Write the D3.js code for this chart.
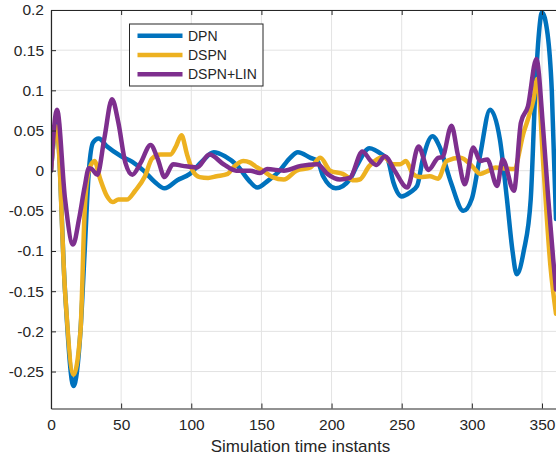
<!DOCTYPE html>
<html>
<head>
<meta charset="utf-8">
<script src="https://cdn.jsdelivr.net/npm/d3@7"></script>
<style>
  body { margin: 0; background: #fff; }
  text { font-family: 'Liberation Sans', Arial, sans-serif; fill: #262626; }
</style>
</head>
<body>
<div id="chart"></div>
<script>
const seriesNames = ['DPN', 'DSPN', 'DSPN+LIN']
const seriesColors = ['#0072BD', '#EDB120', '#7E2F8E']

const xTicks = [0, 50, 100, 150, 200, 250, 300, 350]
const yTicks = [-0.25, -0.2, -0.15, -0.1, -0.05, 0, 0.05, 0.1, 0.15, 0.2]

// [time instant, value]
const dpn = [
  [0, 0], [4, 0.058], [10, -0.15], [16, -0.268], [21, -0.2], [24, -0.1], [27, 0.0],
  [30, 0.035], [34, 0.04], [40, 0.03], [50, 0.018], [58, 0.011], [66, 0.0],
  [74, -0.014], [81, -0.022], [90, -0.012], [99, -0.004], [108, 0.012], [116, 0.023],
  [124, 0.018], [133, 0.006], [141, -0.012], [147, -0.021], [155, -0.012], [163, 0],
  [170, 0.015], [176, 0.023], [185, 0.016], [190, 0.012], [194, -0.007], [203, -0.022],
  [213, -0.011], [218, 0.006], [227, 0.028], [236, 0.02], [240, 0.014], [244, -0.014],
  [250, -0.032], [256, -0.027], [261, -0.019], [265, 0.014], [272, 0.043], [277, 0.03],
  [285, -0.014], [294, -0.05], [300, -0.035], [306, 0.02], [313, 0.076], [320, 0.039],
  [325, -0.035], [329, -0.1], [332, -0.129], [337, -0.1], [342, -0.035], [345, 0.089],
  [347.5, 0.164], [350, 0.197], [354, 0.17], [357, 0.1], [360, -0.06]
]

const dspn = [
  [0, 0], [4, 0.055], [10, -0.15], [16, -0.254], [21, -0.2], [24, -0.05], [27, 0.0],
  [31, 0.012], [35, -0.01], [40, -0.032], [44, -0.039], [48, -0.036], [54, -0.036],
  [60, -0.025], [67, -0.007], [72, 0.015], [78, 0.02], [85, 0.02], [89, 0.03],
  [93, 0.044], [97, 0.02], [101, 0.0], [106, -0.008], [112, -0.009], [118, -0.007],
  [126, -0.004], [130, 0.004], [137, 0.012], [142, 0.01], [147, 0.004], [151, 0],
  [158, -0.008], [166, -0.011], [175, 0], [185, 0.004], [192, 0.016], [199, 0],
  [208, -0.004], [216, -0.012], [220, -0.011], [227, 0.006], [237, 0.017], [244, 0.008],
  [249, 0.008], [253, 0.012], [258, -0.004], [263, -0.008], [270, -0.007], [276, -0.01],
  [282, 0.012], [292, 0.016], [300, 0.006], [306, -0.004], [312, 0.0], [317, 0.004],
  [322, 0.003], [330, 0.002], [337, 0.048], [340, 0.064], [344, 0.089], [346.6, 0.114],
  [351, 0.006], [356, -0.118], [360, -0.178]
]

const dspnLin = [
  [0, 0], [4.3, 0.076], [10, -0.035], [15.7, -0.092], [20, -0.06], [24, -0.02],
  [27, 0.003], [29, 0.002], [33, -0.005], [38, 0.04], [43.5, 0.089], [48, 0.06],
  [53, 0.01], [58, -0.005], [64, 0.01], [71, 0.032], [76, 0.015], [81, -0.008],
  [87, 0.008], [94, 0.006], [104, 0.004], [113, 0.02], [123, 0.008], [132, 0],
  [142, 0], [149, -0.003], [154, 0.002], [166, 0], [178, 0.006], [190, 0.008],
  [197, -0.004], [206, -0.011], [213, -0.009], [222, 0.024], [228, 0.012], [232, 0.007],
  [238, 0.018], [245, 0.0], [254, -0.021], [262, 0.03], [269, 0.001], [276, 0.016],
  [279, 0.017], [285.5, 0.056], [290, 0.02], [295, -0.017], [301, 0.029], [306, 0.012],
  [311, 0.014], [318, -0.019], [322, 0.014], [330, -0.025], [335, 0.06], [340, 0.08],
  [346, 0.139], [351, 0.048], [354.5, -0.035], [358, -0.11], [360, -0.148]
]

const allSeries = [dpn, dspn, dspnLin]

const width = 556
const height = 458
const margin = { top: 10, right: 0, bottom: 49.5, left: 51 }

const svg = d3
  .select('#chart')
  .append('svg')
  .attr('width', width)
  .attr('height', height)

const xScale = d3
  .scaleLinear()
  .domain([0, 360])
  .range([margin.left, width - margin.right])

const yScale = d3
  .scaleLinear()
  .domain([-0.296, 0.2])
  .range([height - margin.bottom, margin.top])

const fmt = (d) => (d === 0 ? '0' : String(d).replace(/^(-?)0\./, '$10.'))

// grid
svg
  .append('g')
  .selectAll('line.gx')
  .data(xTicks)
  .join('line')
  .attr('x1', (d) => xScale(d))
  .attr('x2', (d) => xScale(d))
  .attr('y1', yScale.range()[0])
  .attr('y2', yScale.range()[1])
  .attr('stroke', '#e3e3e3')
  .attr('stroke-width', 1)

svg
  .append('g')
  .selectAll('line.gy')
  .data(yTicks)
  .join('line')
  .attr('x1', xScale.range()[0])
  .attr('x2', xScale.range()[1])
  .attr('y1', (d) => yScale(d))
  .attr('y2', (d) => yScale(d))
  .attr('stroke', '#e3e3e3')
  .attr('stroke-width', 1)

// lines
svg
  .append('clipPath')
  .attr('id', 'clip')
  .append('rect')
  .attr('x', margin.left)
  .attr('y', margin.top)
  .attr('width', width - margin.left - margin.right)
  .attr('height', height - margin.top - margin.bottom)

const line = d3
  .line()
  .x((d) => xScale(d[0]))
  .y((d) => yScale(d[1]))
  .curve(d3.curveMonotoneX)

svg
  .append('g')
  .attr('clip-path', 'url(#clip)')
  .selectAll('path')
  .data(allSeries)
  .join('path')
  .attr('d', line)
  .attr('fill', 'none')
  .attr('stroke', (d, i) => seriesColors[i])
  .attr('stroke-width', 4.5)
  .attr('stroke-linejoin', 'round')
  .attr('stroke-linecap', 'round')

// axes
const xAxis = d3.axisBottom(xScale).tickValues(xTicks).tickSizeInner(-5).tickSizeOuter(0).tickPadding(10)
const yAxis = d3.axisLeft(yScale).tickValues(yTicks).tickSizeInner(-5).tickSizeOuter(0).tickPadding(7).tickFormat(fmt)

const gx = svg
  .append('g')
  .attr('transform', `translate(0, ${yScale.range()[0]})`)
  .call(xAxis)

const gy = svg
  .append('g')
  .attr('transform', `translate(${margin.left}, 0)`)
  .call(yAxis)

// top box line with ticks
svg
  .append('g')
  .attr('transform', `translate(0, ${margin.top})`)
  .call(d3.axisTop(xScale).tickValues(xTicks).tickSizeInner(-5).tickSizeOuter(0).tickFormat(''))

svg.selectAll('.domain').attr('stroke', '#262626').attr('stroke-width', 1.2)
svg.selectAll('.tick line').attr('stroke', '#262626')
gx.selectAll('text').style('font-size', '15.5px').attr('fill', '#262626')
gy.selectAll('text').style('font-size', '15.5px').attr('fill', '#262626')

svg
  .append('text')
  .attr('x', (xScale.range()[0] + xScale.range()[1]) / 2 - 3)
  .attr('y', 452)
  .attr('text-anchor', 'middle')
  .style('font-size', '17px')
  .text('Simulation time instants')

// legend
const legend = svg.append('g').attr('transform', 'translate(129.5, 24)')

legend
  .append('rect')
  .attr('width', 133.5)
  .attr('height', 62)
  .attr('fill', '#fff')
  .attr('stroke', '#262626')
  .attr('stroke-width', 1)

const items = legend
  .selectAll('g.item')
  .data(seriesNames)
  .join('g')
  .attr('transform', (d, i) => `translate(0, ${11.7 + i * 19.3})`)

items
  .append('line')
  .attr('x1', 8)
  .attr('x2', 53)
  .attr('stroke', (d, i) => seriesColors[i])
  .attr('stroke-width', 4.5)

items
  .append('text')
  .attr('x', 58.5)
  .attr('y', 5)
  .style('font-size', '14px')
  .text((d) => d)
</script>
</body>
</html>
